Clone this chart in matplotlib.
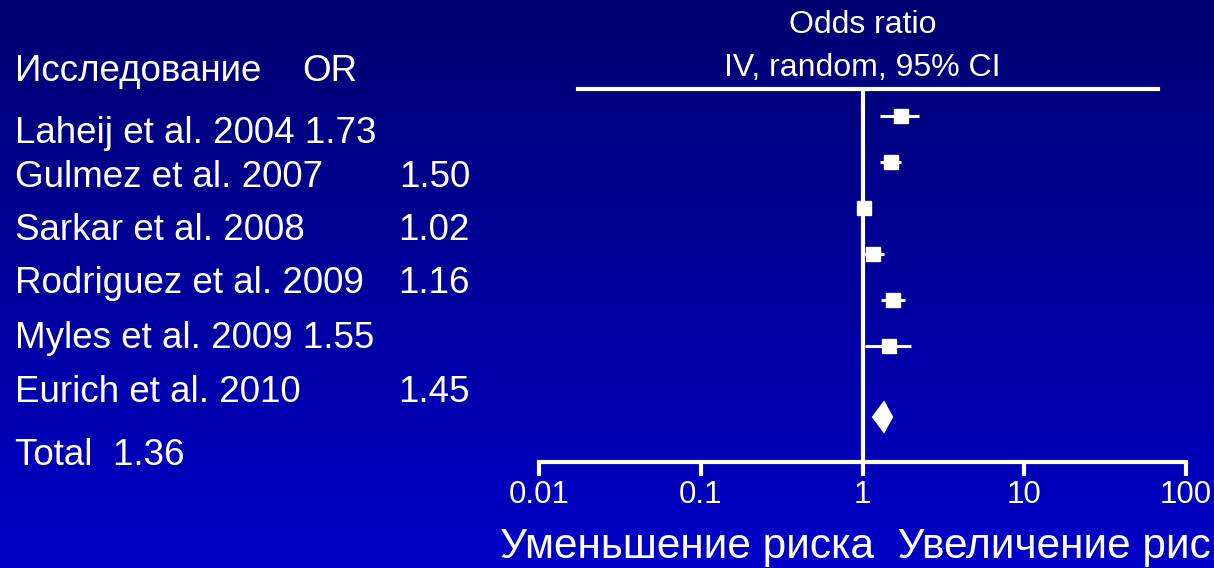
import numpy as np
import matplotlib.pyplot as plt

plt.rcParams['font.family'] = ['Liberation Sans', 'DejaVu Sans']

# исследования и отношения шансов
studies = ["Laheij et al. 2004", "Gulmez et al. 2007", "Sarkar et al. 2008",
           "Rodriguez et al. 2009", "Myles et al. 2009", "Eurich et al. 2010"]
odds = [1.73, 1.50, 1.02, 1.16, 1.55, 1.45]
ci_low = [1.29, 1.29, 0.96, 1.00, 1.31, 1.04]
ci_high = [2.22, 1.72, 1.08, 1.35, 1.84, 2.00]
total_or = 1.36
total_low = 1.14
total_high = 1.55
tick_vals = [0.01, 0.1, 1, 10, 100]
tick_text = ["0.01", "0.1", "1", "10", "100"]

W, H = 1214, 568
fig = plt.figure(figsize=(W / 100, H / 100), dpi=100)


def fx(x):
    return x / W


def fy(y):
    return 1 - y / H


# фон - синий градиент
bg = fig.add_axes([0, 0, 1, 1])
grad = np.linspace(0, 1, 256).reshape(-1, 1)
cols = np.zeros((256, 1, 3))
cols[:, 0, 2] = (112 + (200 - 112) * grad[:, 0]) / 255
bg.imshow(cols, aspect='auto', extent=[0, 1, 0, 1], origin='upper')
bg.axis('off')

# оси forest plot
left, right, top, bottom = 539, 1186, 89, 462
ax = fig.add_axes([fx(left), fy(bottom), (right - left) / W, (bottom - top) / H])
ax.patch.set_visible(False)
ax.set_xscale('log')
ax.set_xlim(0.01, 100)
row = 46.0
ax.set_ylim((bottom - 116) / row, (top - 116) / row)

for s in ['left', 'right']:
    ax.spines[s].set_visible(False)
for s in ['top', 'bottom']:
    ax.spines[s].set_color('white')
    ax.spines[s].set_linewidth(3)
ax.spines['top'].set_bounds(0.0174, 67)

ax.set_xticks(tick_vals)
ax.set_xticklabels(tick_text)
ax.minorticks_off()
ax.tick_params(axis='x', colors='white', direction='out', length=10, width=3,
               pad=3, labelsize=22.5)
ax.set_yticks([])

ax.axvline(1, color='white', lw=3, zorder=2)

ys = np.arange(len(studies))
ax.hlines(ys, ci_low, ci_high, color='white', lw=2.2, zorder=3)
ax.plot(odds, ys, 's', color='white', ms=9.5, zorder=4)

# итоговый ромб
ty = (417 - 116) / row
dh = 0.36
ax.fill([total_low, total_or, total_high, total_or],
        [ty, ty - dh, ty, ty + dh], color='white', zorder=4, lw=0)

# заголовок
fig.text(fx(863), fy(33), "Odds ratio", color='white', fontsize=23, ha='center', va='baseline')
fig.text(fx(862), fy(76), "IV, random, 95% CI", color='white', fontsize=23, ha='center', va='baseline')

# таблица слева
fs = 26.5
fig.text(fx(15), fy(81), "Исследование", color='white', fontsize=fs, va='baseline')
fig.text(fx(302), fy(81), "OR", color='white', fontsize=fs, va='baseline')

baselines = [143, 187, 240, 293, 348, 402]
inline = [True, False, False, False, True, False]
for name, v, b, inl in zip(studies, odds, baselines, inline):
    if inl:
        fig.text(fx(15), fy(b), f"{name} {v:.2f}", color='white', fontsize=fs, va='baseline')
    else:
        fig.text(fx(15), fy(b), name, color='white', fontsize=fs, va='baseline')
        fig.text(fx(470), fy(b), f"{v:.2f}", color='white', fontsize=fs, va='baseline', ha='right')
fig.text(fx(15), fy(465), f"Total  {total_or:.2f}", color='white', fontsize=fs, va='baseline')

fig.text(fx(500), fy(558), "Уменьшение риска  Увеличение рис", color='white',
         fontsize=30.5, va='baseline')

fig.savefig("out.png", dpi=100)
